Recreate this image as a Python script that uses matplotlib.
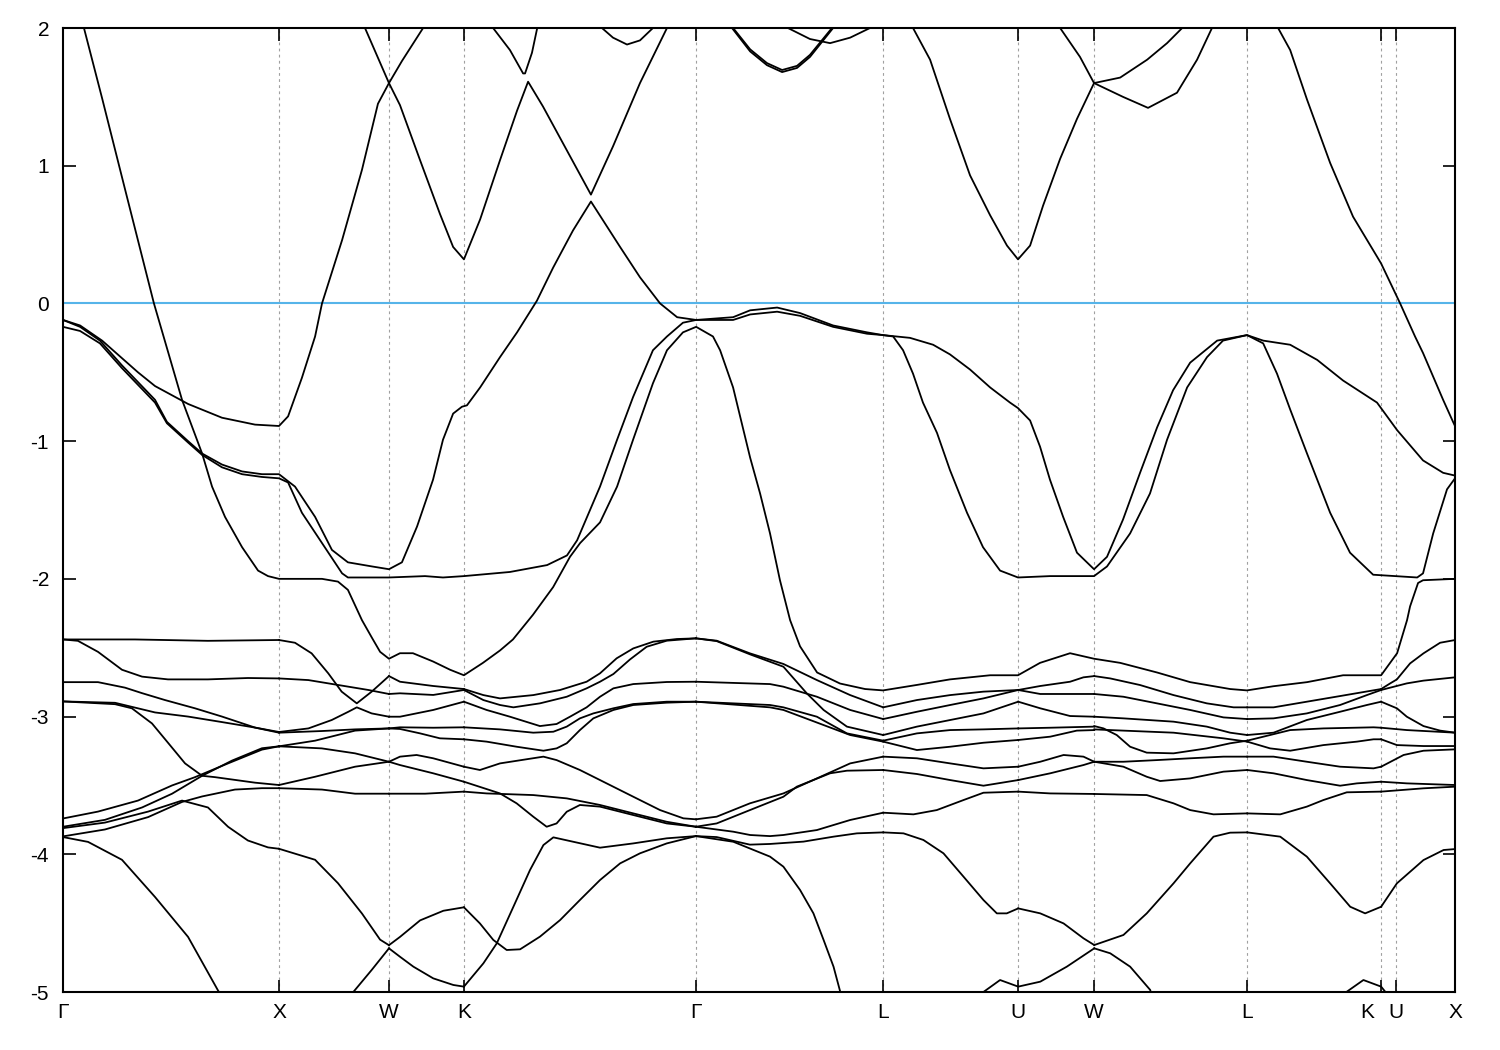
import matplotlib
matplotlib.use("Agg")
import matplotlib.pyplot as plt
import matplotlib.transforms as mtransforms

plt.rcParams['font.family'] = ['Liberation Sans', 'DejaVu Sans']
plt.rcParams['axes.unicode_minus'] = False

# high symmetry points along the path (2pi/a)
kpoints = [0.0, 1.0, 1.509, 1.856, 2.931, 3.796, 4.421, 4.773, 5.481, 6.102, 6.171, 6.444]
klabels = ['Γ', 'X', 'W', 'K', 'Γ', 'L', 'U', 'W', 'L', 'K', 'U', 'X']
E_MIN, E_MAX = -5, 2

# ---- bands: (k, E-Ef in eV) ----
# s/p-like bands crossing the Fermi level
band_a = [(0.000, 2.62), (0.097, 2.00), (0.181, 1.49), (0.287, 0.83), (0.421, 0.00), (0.551, -0.70),
          (0.644, -1.09), (0.690, -1.33), (0.750, -1.55), (0.829, -1.77), (0.903, -1.94), (0.949, -1.98),
          (1.000, -2.00), (1.199, -2.00), (1.273, -2.02), (1.319, -2.08), (1.384, -2.30), (1.431, -2.43),
          (1.468, -2.53), (1.509, -2.58), (1.560, -2.54), (1.620, -2.54), (1.713, -2.60), (1.792, -2.66),
          (1.856, -2.70), (1.944, -2.61), (2.023, -2.52), (2.083, -2.44), (2.176, -2.26), (2.269, -2.06),
          (2.347, -1.84), (2.394, -1.74), (2.486, -1.59), (2.565, -1.33), (2.639, -0.99), (2.731, -0.58),
          (2.796, -0.34), (2.870, -0.21), (2.931, -0.17), (3.009, -0.24), (3.042, -0.34), (3.102, -0.61),
          (3.181, -1.12), (3.227, -1.38), (3.273, -1.67), (3.319, -2.01), (3.366, -2.30), (3.412, -2.49),
          (3.491, -2.68), (3.597, -2.76), (3.713, -2.80), (3.796, -2.81), (3.954, -2.77), (4.106, -2.73),
          (4.292, -2.70), (4.421, -2.70), (4.523, -2.61), (4.662, -2.54), (4.773, -2.58), (4.894, -2.61),
          (5.065, -2.68), (5.218, -2.75), (5.403, -2.80), (5.481, -2.81), (5.602, -2.78), (5.759, -2.75),
          (5.926, -2.70), (6.102, -2.70), (6.176, -2.54), (6.222, -2.30), (6.236, -2.20), (6.273, -2.03),
          (6.296, -2.01), (6.444, -2.00)]

band_p = [(0.000, -0.12), (0.079, -0.17), (0.171, -0.27), (0.273, -0.45), (0.426, -0.70), (0.481, -0.86),
          (0.579, -1.00), (0.644, -1.09), (0.736, -1.17), (0.829, -1.22), (0.921, -1.24), (1.000, -1.24),
          (1.074, -1.33), (1.167, -1.55), (1.245, -1.79), (1.319, -1.88), (1.431, -1.91), (1.509, -1.93),
          (1.569, -1.88), (1.639, -1.62), (1.713, -1.28), (1.759, -0.99), (1.806, -0.80), (1.847, -0.75),
          (1.870, -0.74), (1.931, -0.61), (2.023, -0.39), (2.102, -0.21), (2.194, 0.02), (2.269, 0.26),
          (2.361, 0.53), (2.444, 0.74), (2.579, 0.41), (2.671, 0.19), (2.764, 0.00), (2.843, -0.10),
          (2.931, -0.12), (3.102, -0.10), (3.181, -0.05), (3.306, -0.03), (3.412, -0.07), (3.565, -0.16),
          (3.722, -0.21), (3.796, -0.23), (3.843, -0.24), (3.889, -0.34), (3.935, -0.51), (3.981, -0.72),
          (4.046, -0.94), (4.106, -1.21), (4.185, -1.52), (4.259, -1.77), (4.338, -1.94), (4.421, -1.99),
          (4.569, -1.98), (4.773, -1.98), (4.833, -1.91), (4.940, -1.67), (5.032, -1.38), (5.111, -0.99),
          (5.204, -0.61), (5.296, -0.39), (5.370, -0.27), (5.481, -0.23), (5.556, -0.27), (5.681, -0.30),
          (5.806, -0.41), (5.926, -0.56), (6.083, -0.72), (6.176, -0.92), (6.296, -1.14), (6.389, -1.23),
          (6.444, -1.25)]

band_q = [(0.000, -0.17), (0.079, -0.20), (0.171, -0.29), (0.273, -0.47), (0.426, -0.72), (0.481, -0.87),
          (0.579, -1.01), (0.644, -1.10), (0.736, -1.19), (0.829, -1.24), (0.921, -1.26), (1.000, -1.27),
          (1.042, -1.30), (1.106, -1.52), (1.199, -1.74), (1.292, -1.96), (1.319, -1.99), (1.509, -1.99),
          (1.676, -1.98), (1.759, -1.99), (1.856, -1.98), (2.069, -1.95), (2.241, -1.90), (2.333, -1.83),
          (2.380, -1.72), (2.486, -1.33), (2.565, -0.99), (2.639, -0.68), (2.731, -0.34), (2.796, -0.24),
          (2.870, -0.14), (2.931, -0.12), (3.102, -0.12), (3.181, -0.08), (3.306, -0.06), (3.412, -0.09),
          (3.565, -0.17), (3.722, -0.22), (3.796, -0.23), (3.921, -0.25), (4.028, -0.30), (4.106, -0.37),
          (4.199, -0.48), (4.292, -0.61), (4.384, -0.72), (4.421, -0.76), (4.477, -0.85), (4.523, -1.04),
          (4.569, -1.28), (4.630, -1.55), (4.694, -1.81), (4.773, -1.93), (4.833, -1.84), (4.907, -1.57),
          (4.986, -1.23), (5.065, -0.90), (5.139, -0.63), (5.218, -0.43), (5.343, -0.27), (5.481, -0.23),
          (5.556, -0.29), (5.620, -0.51), (5.681, -0.77), (5.759, -1.09), (5.866, -1.52), (5.958, -1.81),
          (6.065, -1.97), (6.269, -1.99), (6.296, -1.96), (6.343, -1.67), (6.407, -1.35), (6.444, -1.27)]

band_c = [(0.000, -0.12), (0.079, -0.16), (0.181, -0.27), (0.347, -0.50), (0.426, -0.60), (0.579, -0.73),
          (0.736, -0.83), (0.889, -0.88), (1.000, -0.89), (1.042, -0.82), (1.106, -0.54), (1.167, -0.24),
          (1.199, 0.00), (1.292, 0.46), (1.384, 0.97), (1.458, 1.45), (1.509, 1.60), (1.569, 1.76),
          (1.667, 2.00)]

band_d = [(1.398, 2.00), (1.509, 1.60), (1.560, 1.44), (1.653, 1.04), (1.745, 0.65), (1.806, 0.41),
          (1.856, 0.32), (1.931, 0.61), (2.023, 1.04), (2.102, 1.40), (2.153, 1.61), (2.222, 1.43),
          (2.333, 1.11), (2.444, 0.79), (2.546, 1.14), (2.671, 1.60), (2.796, 2.00)]

band_e = [(1.991, 2.00), (2.069, 1.84), (2.130, 1.67), (2.139, 1.67), (2.171, 1.82), (2.194, 1.99)]
band_f = [(2.495, 2.00), (2.546, 1.93), (2.611, 1.88), (2.671, 1.91), (2.731, 2.00)]
band_g1 = [(3.097, 2.00), (3.181, 1.83), (3.259, 1.73), (3.329, 1.68), (3.398, 1.71), (3.458, 1.79), (3.565, 2.00)]
band_g2 = [(3.097, 2.01), (3.181, 1.845), (3.259, 1.745), (3.329, 1.695), (3.398, 1.725), (3.458, 1.805), (3.565, 2.01)]
band_h = [(3.356, 2.00), (3.458, 1.92), (3.551, 1.89), (3.644, 1.93), (3.736, 2.00)]
band_i = [(3.935, 2.00), (4.014, 1.77), (4.106, 1.34), (4.199, 0.93), (4.292, 0.64), (4.370, 0.42),
          (4.421, 0.32), (4.477, 0.42), (4.537, 0.71), (4.616, 1.05), (4.694, 1.34), (4.773, 1.60),
          (4.894, 1.64), (5.019, 1.77), (5.111, 1.89), (5.181, 2.00)]
band_j = [(4.616, 2.00), (4.708, 1.79), (4.773, 1.60), (4.907, 1.50), (5.023, 1.42), (5.157, 1.53),
          (5.250, 1.77), (5.319, 2.00)]
band_k = [(5.625, 2.00), (5.681, 1.84), (5.759, 1.48), (5.866, 1.02), (5.972, 0.63), (6.083, 0.34),
          (6.102, 0.29), (6.190, 0.00), (6.259, -0.24), (6.296, -0.36), (6.389, -0.70), (6.435, -0.86),
          (6.444, -0.89)]

# d-band manifold, Gamma-X
gx1 = [(0.000, -2.44), (0.333, -2.44), (0.671, -2.45), (1.000, -2.444)]
gx2 = [(0.000, -2.44), (0.069, -2.45), (0.162, -2.53), (0.273, -2.66), (0.366, -2.71), (0.486, -2.73),
       (0.671, -2.73), (0.856, -2.72), (1.000, -2.723)]
gx3 = [(0.000, -2.75), (0.162, -2.75), (0.287, -2.79), (0.366, -2.83), (0.472, -2.88), (0.611, -2.94),
       (0.736, -3.00), (0.889, -3.08), (1.000, -3.112)]
gx4 = [(0.000, -2.89), (0.241, -2.90), (0.426, -2.97), (0.579, -3.00), (0.736, -3.04), (0.889, -3.08),
       (1.000, -3.117)]
gx5 = [(0.000, -2.89), (0.241, -2.91), (0.319, -2.94), (0.412, -3.05), (0.486, -3.19), (0.565, -3.34),
       (0.644, -3.43), (0.704, -3.44), (0.889, -3.48), (1.000, -3.497)]
gx6 = [(0.000, -3.74), (0.162, -3.69), (0.347, -3.61), (0.505, -3.50), (0.611, -3.44), (0.764, -3.34),
       (0.921, -3.24), (1.000, -3.216)]
gx7 = [(0.000, -3.80), (0.194, -3.75), (0.366, -3.66), (0.505, -3.56), (0.644, -3.43), (0.782, -3.32),
       (0.921, -3.23), (1.000, -3.216)]
gx8 = [(0.000, -3.81), (0.194, -3.77), (0.394, -3.69), (0.551, -3.61), (0.671, -3.66), (0.764, -3.80),
       (0.856, -3.90), (0.949, -3.95), (1.000, -3.96)]
gx9 = [(0.000, -3.87), (0.194, -3.82), (0.394, -3.73), (0.551, -3.62), (0.644, -3.58), (0.796, -3.53),
       (0.921, -3.52), (1.000, -3.52)]
gx10 = [(0.000, -3.875), (0.116, -3.91), (0.273, -4.04), (0.426, -4.31), (0.579, -4.60), (0.718, -4.99),
        (0.736, -5.03)]

# X-W
xw1 = [(1.000, -2.444), (1.074, -2.464), (1.151, -2.541), (1.228, -2.686), (1.290, -2.819), (1.360, -2.904),
       (1.429, -2.819), (1.509, -2.706)]
xw2 = [(1.000, -2.723), (1.136, -2.735), (1.275, -2.771), (1.414, -2.807), (1.509, -2.836)]
xw3 = [(1.000, -3.112), (1.136, -3.086), (1.244, -3.025), (1.321, -2.965), (1.360, -2.933), (1.429, -2.977),
       (1.509, -3.001)]
xw4 = [(1.000, -3.117), (1.198, -3.105), (1.352, -3.093), (1.509, -3.086)]
xw5 = [(1.000, -3.216), (1.167, -3.175), (1.352, -3.102), (1.509, -3.086)]
xw6 = [(1.000, -3.216), (1.198, -3.231), (1.352, -3.267), (1.509, -3.328)]
xw7 = [(1.000, -3.497), (1.167, -3.437), (1.352, -3.364), (1.509, -3.328)]
xw8 = [(1.000, -3.52), (1.199, -3.53), (1.352, -3.56), (1.509, -3.56)]
xw9 = [(1.000, -3.96), (1.167, -4.04), (1.273, -4.21), (1.384, -4.43), (1.468, -4.62), (1.509, -4.66)]
xw10 = [(1.330, -5.03), (1.344, -5.00), (1.429, -4.84), (1.509, -4.683)]

# W-K
wk1 = [(1.509, -2.706), (1.560, -2.747), (1.714, -2.778), (1.856, -2.800)]
wk2 = [(1.509, -2.836), (1.560, -2.831), (1.714, -2.843), (1.856, -2.807)]
wk3 = [(1.509, -3.001), (1.560, -3.001), (1.714, -2.952), (1.856, -2.892)]
wk4 = [(1.509, -3.086), (1.560, -3.078), (1.714, -3.081), (1.856, -3.078)]
wk5 = [(1.509, -3.086), (1.560, -3.090), (1.653, -3.122), (1.745, -3.158), (1.856, -3.165)]
wk6 = [(1.509, -3.328), (1.560, -3.291), (1.637, -3.279), (1.714, -3.303), (1.856, -3.364)]
wk7 = [(1.509, -3.328), (1.560, -3.352), (1.714, -3.412), (1.856, -3.473)]
wk8 = [(1.509, -3.56), (1.676, -3.56), (1.856, -3.545)]
wk9 = [(1.509, -4.66), (1.560, -4.60), (1.653, -4.48), (1.761, -4.41), (1.856, -4.385)]
wk10 = [(1.509, -4.683), (1.560, -4.744), (1.622, -4.816), (1.714, -4.901), (1.807, -4.949), (1.856, -4.961)]

# K-Gamma
kg1 = [(1.856, -2.800), (1.946, -2.844), (2.023, -2.868), (2.177, -2.844), (2.301, -2.807), (2.424, -2.747),
       (2.486, -2.686), (2.563, -2.577), (2.640, -2.505), (2.733, -2.456), (2.841, -2.437), (2.930, -2.432)]
kg2 = [(1.856, -2.807), (1.946, -2.880), (2.023, -2.916), (2.085, -2.933), (2.208, -2.904), (2.332, -2.856),
       (2.424, -2.795), (2.486, -2.747), (2.548, -2.691), (2.625, -2.585), (2.702, -2.493), (2.795, -2.449),
       (2.930, -2.432)]
kg3 = [(1.856, -2.892), (1.961, -2.952), (2.069, -3.001), (2.208, -3.069), (2.285, -3.054), (2.347, -3.001),
       (2.424, -2.933), (2.486, -2.856), (2.548, -2.795), (2.640, -2.764), (2.795, -2.749), (2.930, -2.747)]
kg4 = [(1.856, -3.078), (2.023, -3.093), (2.177, -3.117), (2.270, -3.110), (2.332, -3.073), (2.393, -3.013),
       (2.455, -2.977), (2.548, -2.940), (2.640, -2.909), (2.795, -2.892), (2.930, -2.892)]
kg5 = [(1.856, -3.165), (1.961, -3.182), (2.100, -3.219), (2.224, -3.248), (2.285, -3.231), (2.332, -3.194),
       (2.393, -3.098), (2.455, -3.013), (2.548, -2.952), (2.640, -2.916), (2.795, -2.899), (2.930, -2.892)]
kg6 = [(1.856, -3.364), (1.930, -3.388), (2.023, -3.340), (2.224, -3.291), (2.285, -3.316), (2.393, -3.388),
       (2.486, -3.461), (2.640, -3.582), (2.764, -3.679), (2.872, -3.739), (2.930, -3.746)]
kg7 = [(1.856, -3.473), (2.023, -3.558), (2.100, -3.630), (2.177, -3.727), (2.239, -3.800), (2.285, -3.776),
       (2.332, -3.691), (2.393, -3.642), (2.486, -3.654), (2.640, -3.715), (2.795, -3.776), (2.930, -3.800)]
kg8 = [(1.856, -3.545), (1.961, -3.558), (2.177, -3.570), (2.332, -3.594), (2.486, -3.642), (2.640, -3.703),
       (2.795, -3.764), (2.930, -3.800)]
kg9 = [(1.856, -4.385), (1.930, -4.502), (1.992, -4.622), (2.054, -4.695), (2.116, -4.690), (2.208, -4.598),
       (2.301, -4.478), (2.393, -4.332), (2.486, -4.187), (2.579, -4.066), (2.671, -3.993), (2.795, -3.921),
       (2.930, -3.868)]
kg10 = [(1.856, -4.961), (1.946, -4.792), (2.008, -4.647), (2.085, -4.381), (2.162, -4.114), (2.224, -3.933),
        (2.270, -3.877), (2.362, -3.909), (2.486, -3.952), (2.640, -3.921), (2.795, -3.884), (2.930, -3.868)]

# Gamma-L
gl1 = [(2.930, -2.432), (3.026, -2.449), (3.180, -2.541), (3.335, -2.618), (3.490, -2.735), (3.644, -2.844),
       (3.797, -2.933)]
gl2 = [(2.930, -2.432), (3.026, -2.452), (3.180, -2.548), (3.335, -2.638), (3.443, -2.831), (3.521, -2.952),
       (3.629, -3.073), (3.797, -3.134)]
gl3 = [(2.930, -2.747), (3.273, -2.764), (3.335, -2.783), (3.490, -2.856), (3.644, -2.952), (3.797, -3.018)]
gl4 = [(2.930, -2.892), (3.273, -2.916), (3.335, -2.933), (3.490, -3.001), (3.629, -3.122), (3.797, -3.175)]
gl5 = [(2.930, -2.892), (3.273, -2.933), (3.335, -2.952), (3.459, -3.025), (3.644, -3.134), (3.797, -3.182)]
gl6 = [(2.930, -3.746), (3.026, -3.727), (3.180, -3.630), (3.335, -3.558), (3.490, -3.449), (3.644, -3.340),
       (3.797, -3.291)]
gl7 = [(2.930, -3.800), (3.026, -3.776), (3.180, -3.679), (3.335, -3.582), (3.397, -3.509), (3.551, -3.412),
       (3.629, -3.393), (3.797, -3.388)]
gl8 = [(2.930, -3.800), (3.103, -3.836), (3.181, -3.860), (3.273, -3.868), (3.335, -3.860), (3.490, -3.824),
       (3.644, -3.751), (3.797, -3.698)]
gl9 = [(2.930, -3.868), (3.026, -3.875), (3.180, -3.930), (3.273, -3.925), (3.428, -3.908), (3.567, -3.872),
       (3.675, -3.848), (3.797, -3.841)]
gl10 = [(2.930, -3.868), (3.103, -3.909), (3.273, -4.017), (3.335, -4.090), (3.412, -4.259), (3.474, -4.429),
        (3.521, -4.622), (3.567, -4.816), (3.598, -4.998), (3.605, -5.03)]

# L-U
lu1 = [(3.797, -2.933), (3.953, -2.880), (4.107, -2.844), (4.261, -2.819), (4.422, -2.807)]
lu2 = [(3.797, -3.018), (3.953, -2.965), (4.107, -2.916), (4.261, -2.868), (4.422, -2.807)]
lu3 = [(3.797, -3.134), (3.953, -3.073), (4.107, -3.025), (4.261, -2.977), (4.422, -2.892)]
lu4 = [(3.797, -3.175), (3.953, -3.122), (4.107, -3.098), (4.261, -3.093), (4.422, -3.086)]
lu5 = [(3.797, -3.182), (3.953, -3.243), (4.107, -3.219), (4.261, -3.190), (4.422, -3.170)]
lu6 = [(3.797, -3.291), (3.953, -3.303), (4.107, -3.340), (4.261, -3.376), (4.422, -3.364)]
lu7 = [(3.797, -3.388), (3.953, -3.417), (4.107, -3.461), (4.261, -3.502), (4.422, -3.461)]
lu8 = [(3.797, -3.698), (3.937, -3.710), (4.045, -3.679), (4.169, -3.606), (4.261, -3.553), (4.422, -3.545)]
lu9 = [(3.797, -3.841), (3.891, -3.848), (3.983, -3.896), (4.076, -3.993), (4.169, -4.163), (4.261, -4.332),
       (4.323, -4.429), (4.369, -4.429), (4.422, -4.393)]

# U-W
uw1 = [(4.422, -2.807), (4.524, -2.778), (4.662, -2.747), (4.724, -2.715), (4.774, -2.706)]
uw2 = [(4.422, -2.807), (4.524, -2.836), (4.662, -2.836), (4.774, -2.836)]
uw3 = [(4.422, -2.892), (4.524, -2.940), (4.662, -2.996), (4.774, -3.001)]
uw4 = [(4.422, -3.086), (4.570, -3.081), (4.774, -3.073)]
uw5 = [(4.422, -3.170), (4.570, -3.146), (4.693, -3.102), (4.774, -3.098)]
uw6 = [(4.422, -3.364), (4.524, -3.328), (4.632, -3.279), (4.724, -3.291), (4.774, -3.328)]
uw7 = [(4.422, -3.461), (4.570, -3.412), (4.724, -3.352), (4.774, -3.328)]
uw8 = [(4.422, -3.545), (4.570, -3.558), (4.774, -3.562)]
uw9 = [(4.422, -4.393), (4.524, -4.429), (4.632, -4.502), (4.724, -4.610), (4.774, -4.659)]
uw10 = [(4.250, -5.03), (4.261, -5.00), (4.338, -4.913), (4.422, -4.961), (4.524, -4.925), (4.647, -4.816),
        (4.774, -4.683)]

# W-L
wl1 = [(4.774, -2.706), (4.848, -2.723), (4.986, -2.771), (5.141, -2.844), (5.295, -2.904), (5.419, -2.933),
       (5.482, -2.933)]
wl2 = [(4.774, -2.836), (4.909, -2.856), (5.064, -2.904), (5.218, -2.952), (5.372, -3.006), (5.482, -3.018)]
wl3 = [(4.774, -3.001), (4.909, -3.013), (5.141, -3.037), (5.295, -3.073), (5.403, -3.117), (5.482, -3.134)]
wl4 = [(4.774, -3.069), (4.817, -3.086), (4.878, -3.134), (4.940, -3.219), (5.017, -3.262), (5.141, -3.267),
       (5.295, -3.231), (5.403, -3.194), (5.482, -3.175)]
wl5 = [(4.774, -3.093), (4.909, -3.102), (5.141, -3.117), (5.372, -3.158), (5.482, -3.182)]
wl6 = [(4.774, -3.328), (4.909, -3.328), (5.064, -3.316), (5.218, -3.303), (5.372, -3.291), (5.482, -3.291)]
wl7 = [(4.774, -3.328), (4.909, -3.364), (5.017, -3.437), (5.079, -3.468), (5.218, -3.449), (5.372, -3.400),
       (5.482, -3.388)]
wl8 = [(4.774, -3.562), (5.017, -3.570), (5.141, -3.630), (5.218, -3.679), (5.326, -3.710), (5.482, -3.703)]
wl9 = [(4.774, -4.659), (4.909, -4.586), (5.017, -4.429), (5.141, -4.211), (5.218, -4.066), (5.326, -3.872),
       (5.403, -3.843), (5.482, -3.841)]
wl10 = [(4.774, -4.683), (4.848, -4.719), (4.940, -4.816), (5.033, -4.985), (5.040, -5.03)]

# L-K
lk1 = [(5.482, -2.933), (5.604, -2.933), (5.758, -2.892), (5.912, -2.851), (6.102, -2.800)]
lk2 = [(5.482, -3.018), (5.604, -3.013), (5.758, -2.977), (5.912, -2.916), (6.036, -2.844), (6.102, -2.807)]
lk3 = [(5.482, -3.134), (5.604, -3.117), (5.758, -3.025), (5.912, -2.965), (6.036, -2.916), (6.102, -2.892)]
lk4 = [(5.482, -3.175), (5.588, -3.134), (5.681, -3.098), (5.835, -3.086), (6.067, -3.078), (6.102, -3.081)]
lk5 = [(5.482, -3.182), (5.588, -3.231), (5.681, -3.248), (5.835, -3.207), (5.990, -3.182), (6.067, -3.165),
       (6.102, -3.165)]
lk6 = [(5.482, -3.291), (5.604, -3.291), (5.758, -3.328), (5.912, -3.364), (6.067, -3.376), (6.102, -3.364)]
lk7 = [(5.482, -3.388), (5.604, -3.412), (5.758, -3.461), (5.912, -3.502), (5.990, -3.485), (6.102, -3.473)]
lk8 = [(5.482, -3.703), (5.635, -3.710), (5.758, -3.654), (5.835, -3.606), (5.943, -3.550), (6.102, -3.545)]
lk9 = [(5.482, -3.841), (5.635, -3.872), (5.758, -4.017), (5.866, -4.211), (5.959, -4.381), (6.028, -4.429),
       (6.102, -4.381)]
lk10 = [(5.935, -5.03), (5.943, -4.998), (6.020, -4.913), (6.102, -4.961), (6.121, -4.998), (6.125, -5.03)]

# K-U-X
kx1 = [(6.102, -2.800), (6.144, -2.759), (6.175, -2.730), (6.236, -2.614), (6.298, -2.541), (6.375, -2.464),
       (6.445, -2.444)]
kx2 = [(6.102, -2.807), (6.221, -2.759), (6.298, -2.739), (6.445, -2.715)]
kx3 = [(6.102, -2.892), (6.175, -2.940), (6.221, -3.001), (6.298, -3.069), (6.375, -3.102), (6.445, -3.117)]
kx4 = [(6.102, -3.081), (6.221, -3.098), (6.445, -3.117)]
kx5 = [(6.102, -3.165), (6.175, -3.207), (6.298, -3.214), (6.445, -3.214)]
kx6 = [(6.102, -3.364), (6.206, -3.279), (6.298, -3.248), (6.445, -3.238)]
kx7 = [(6.102, -3.473), (6.221, -3.485), (6.445, -3.497)]
kx8 = [(6.102, -3.545), (6.298, -3.521), (6.445, -3.509)]
kx9 = [(6.102, -4.381), (6.175, -4.211), (6.298, -4.042), (6.391, -3.969), (6.445, -3.962)]

bands = [band_a, band_p, band_q, band_c, band_d, band_e, band_f, band_g1, band_g2, band_h, band_i,
         band_j, band_k,
         gx1, gx2, gx3, gx4, gx5, gx6, gx7, gx8, gx9, gx10,
         xw1, xw2, xw3, xw4, xw5, xw6, xw7, xw8, xw9, xw10,
         wk1, wk2, wk3, wk4, wk5, wk6, wk7, wk8, wk9, wk10,
         kg1, kg2, kg3, kg4, kg5, kg6, kg7, kg8, kg9, kg10,
         gl1, gl2, gl3, gl4, gl5, gl6, gl7, gl8, gl9, gl10,
         lu1, lu2, lu3, lu4, lu5, lu6, lu7, lu8, lu9,
         uw1, uw2, uw3, uw4, uw5, uw6, uw7, uw8, uw9, uw10,
         wl1, wl2, wl3, wl4, wl5, wl6, wl7, wl8, wl9, wl10,
         lk1, lk2, lk3, lk4, lk5, lk6, lk7, lk8, lk9, lk10,
         kx1, kx2, kx3, kx4, kx5, kx6, kx7, kx8, kx9]

fig = plt.figure(figsize=(15, 10.5), dpi=100)
ax = fig.add_axes([63 / 1500, 58 / 1050, 1392 / 1500, 964 / 1050])

for kp in kpoints[1:-1]:
    ax.axvline(kp, color='#a0a0a0', lw=0.8, ls=(0, (2.5, 3)), zorder=1)
ax.axhline(0.0, color='#56b4e9', lw=1.5, zorder=2)

for b in bands:
    k, e = zip(*b)
    ax.plot(k, e, color='black', lw=1.3, zorder=3, solid_joinstyle='round')

ax.set_xlim(kpoints[0], kpoints[-1])
ax.set_ylim(E_MIN, E_MAX)
ax.set_xticks(kpoints)
ax.set_xticklabels(klabels)
ax.set_yticks(range(E_MIN, E_MAX + 1))
ax.tick_params(direction='in', length=9, width=1.2, top=True, right=True, labelsize=15, pad=8)
ax.tick_params(axis='y', pad=10)
for s in ax.spines.values():
    s.set_linewidth(1.5)

# the K just before U sits a little to the left, as in the original
lab = ax.get_xticklabels()[9]
lab.set_transform(lab.get_transform() + mtransforms.ScaledTranslation(-0.14, 0, fig.dpi_scale_trans))

fig.savefig('out.png', dpi=100)
